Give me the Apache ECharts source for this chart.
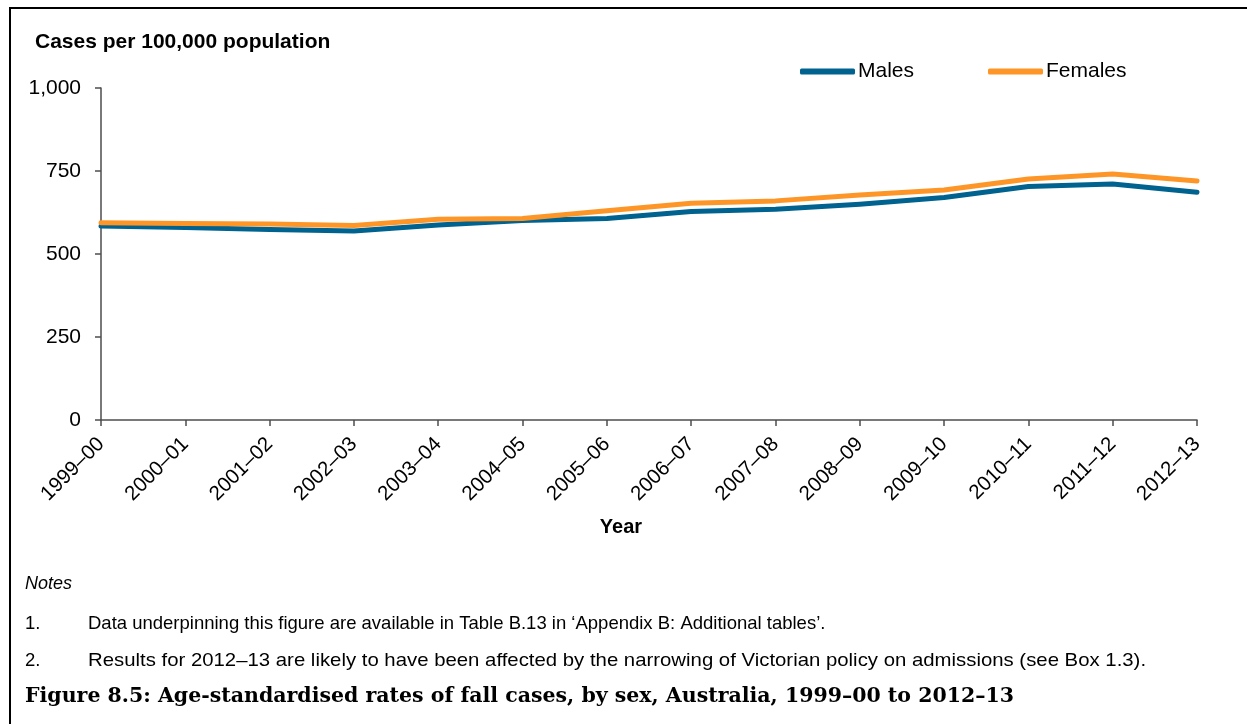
<!DOCTYPE html>
<html>
<head>
<meta charset="utf-8">
<script src="https://cdn.jsdelivr.net/npm/echarts@6/dist/echarts.min.js"></script>
<style>
  html, body { margin: 0; padding: 0; background: #fff; }
  #chart { width: 1247px; height: 724px; }
</style>
</head>
<body>
<div id="chart"></div>
<script>
// Financial years shown along the x axis
const years = ['1999–00', '2000–01', '2001–02', '2002–03', '2003–04', '2004–05', '2005–06',
  '2006–07', '2007–08', '2008–09', '2009–10', '2010–11', '2011–12', '2012–13'];

// Age-standardised fall cases per 100,000 population
const males = [584, 580, 574, 569, 587, 601, 607, 628, 635, 650, 670, 703, 711, 686];
const females = [594, 592, 590, 586, 605, 607, 630, 653, 660, 678, 693, 726, 741, 720];

// Y axis range and step
const yMin = 0;
const yMax = 1000;
const yStep = 250;

const notes = [
  'Data underpinning this figure are available in Table B.13 in ‘Appendix B: Additional tables’.',
  'Results for 2012–13 are likely to have been affected by the narrowing of Victorian policy on admissions (see Box 1.3).'
];
// horizontal stretch per note line (the second line is set more loosely)
const noteStretch = [1, 1.1];
const caption = 'Figure 8.5: Age-standardised rates of fall cases, by sex, Australia, 1999–00 to 2012–13';

const FONT = '"Liberation Sans", Arial, sans-serif';
const axisColor = '#4d4d4d';

const chart = echarts.init(document.getElementById('chart'));

const noteGraphics = [];
notes.forEach((t, i) => {
  const y = 624 + i * 37;
  noteGraphics.push({
    type: 'text', x: 25, y: y,
    style: { text: (i + 1) + '.', font: '18.5px ' + FONT, fill: '#000', verticalAlign: 'middle' }
  });
  noteGraphics.push({
    type: 'text', x: 88, y: y, scaleX: noteStretch[i],
    style: { text: t, font: '18.5px ' + FONT, fill: '#000', verticalAlign: 'middle' }
  });
});

chart.setOption({
  animation: false,
  textStyle: { fontFamily: FONT },
  grid: { left: 101, right: 50, top: 88, bottom: 304, containLabel: false },
  legend: {
    left: 800, top: 61, padding: 0,
    itemWidth: 55, itemHeight: 6, itemGap: 74,
    icon: 'roundRect',
    textStyle: { fontSize: 21, color: '#000', fontFamily: FONT, padding: [0, 0, 0, -2] },
    data: ['Males', 'Females']
  },
  xAxis: {
    type: 'category',
    data: years,
    boundaryGap: false,
    axisLine: { lineStyle: { color: axisColor, width: 1.5 } },
    axisTick: { show: true, alignWithLabel: true, length: 6, lineStyle: { color: axisColor, width: 1.5 } },
    axisLabel: { rotate: 45, fontSize: 20.5, color: '#000', margin: 21, interval: 0, fontFamily: FONT },
    splitLine: { show: false }
  },
  yAxis: {
    type: 'value',
    min: yMin, max: yMax, interval: yStep,
    axisLine: { show: true, lineStyle: { color: axisColor, width: 1.5 } },
    axisTick: { show: true, length: 6, lineStyle: { color: axisColor, width: 1.5 } },
    axisLabel: {
      fontSize: 21, color: '#000', margin: 20, fontFamily: FONT,
      formatter: v => v.toLocaleString('en-US')
    },
    splitLine: { show: false }
  },
  series: [
    {
      name: 'Males', type: 'line', data: males,
      symbol: 'none', smooth: false,
      color: '#00628f',
      lineStyle: { width: 5, color: '#00628f', cap: 'round', join: 'round' }
    },
    {
      name: 'Females', type: 'line', data: females,
      symbol: 'none', smooth: false,
      color: '#fe9627',
      lineStyle: { width: 5, color: '#fe9627', cap: 'round', join: 'round' }
    }
  ],
  graphic: [
    // frame: top and left rules
    { type: 'rect', shape: { x: 9, y: 7, width: 1240, height: 2 }, style: { fill: '#000' }, silent: true },
    { type: 'rect', shape: { x: 9, y: 7, width: 2, height: 720 }, style: { fill: '#000' }, silent: true },
    {
      type: 'text', x: 35, y: 42,
      style: { text: 'Cases per 100,000 population', font: 'bold 21px ' + FONT, fill: '#000', verticalAlign: 'middle' }
    },
    {
      type: 'text', x: 621, y: 527,
      style: { text: 'Year', font: 'bold 20px ' + FONT, fill: '#000', align: 'center', verticalAlign: 'middle' }
    },
    {
      type: 'text', x: 25, y: 584,
      style: { text: 'Notes', font: 'italic 18px ' + FONT, fill: '#000', verticalAlign: 'middle' }
    },
    ...noteGraphics,
    {
      type: 'text', x: 25, y: 697,
      style: { text: caption, font: 'bold 20.5px "DejaVu Serif", "Liberation Serif", serif', fill: '#000', verticalAlign: 'middle' }
    }
  ]
});
</script>
</body>
</html>
